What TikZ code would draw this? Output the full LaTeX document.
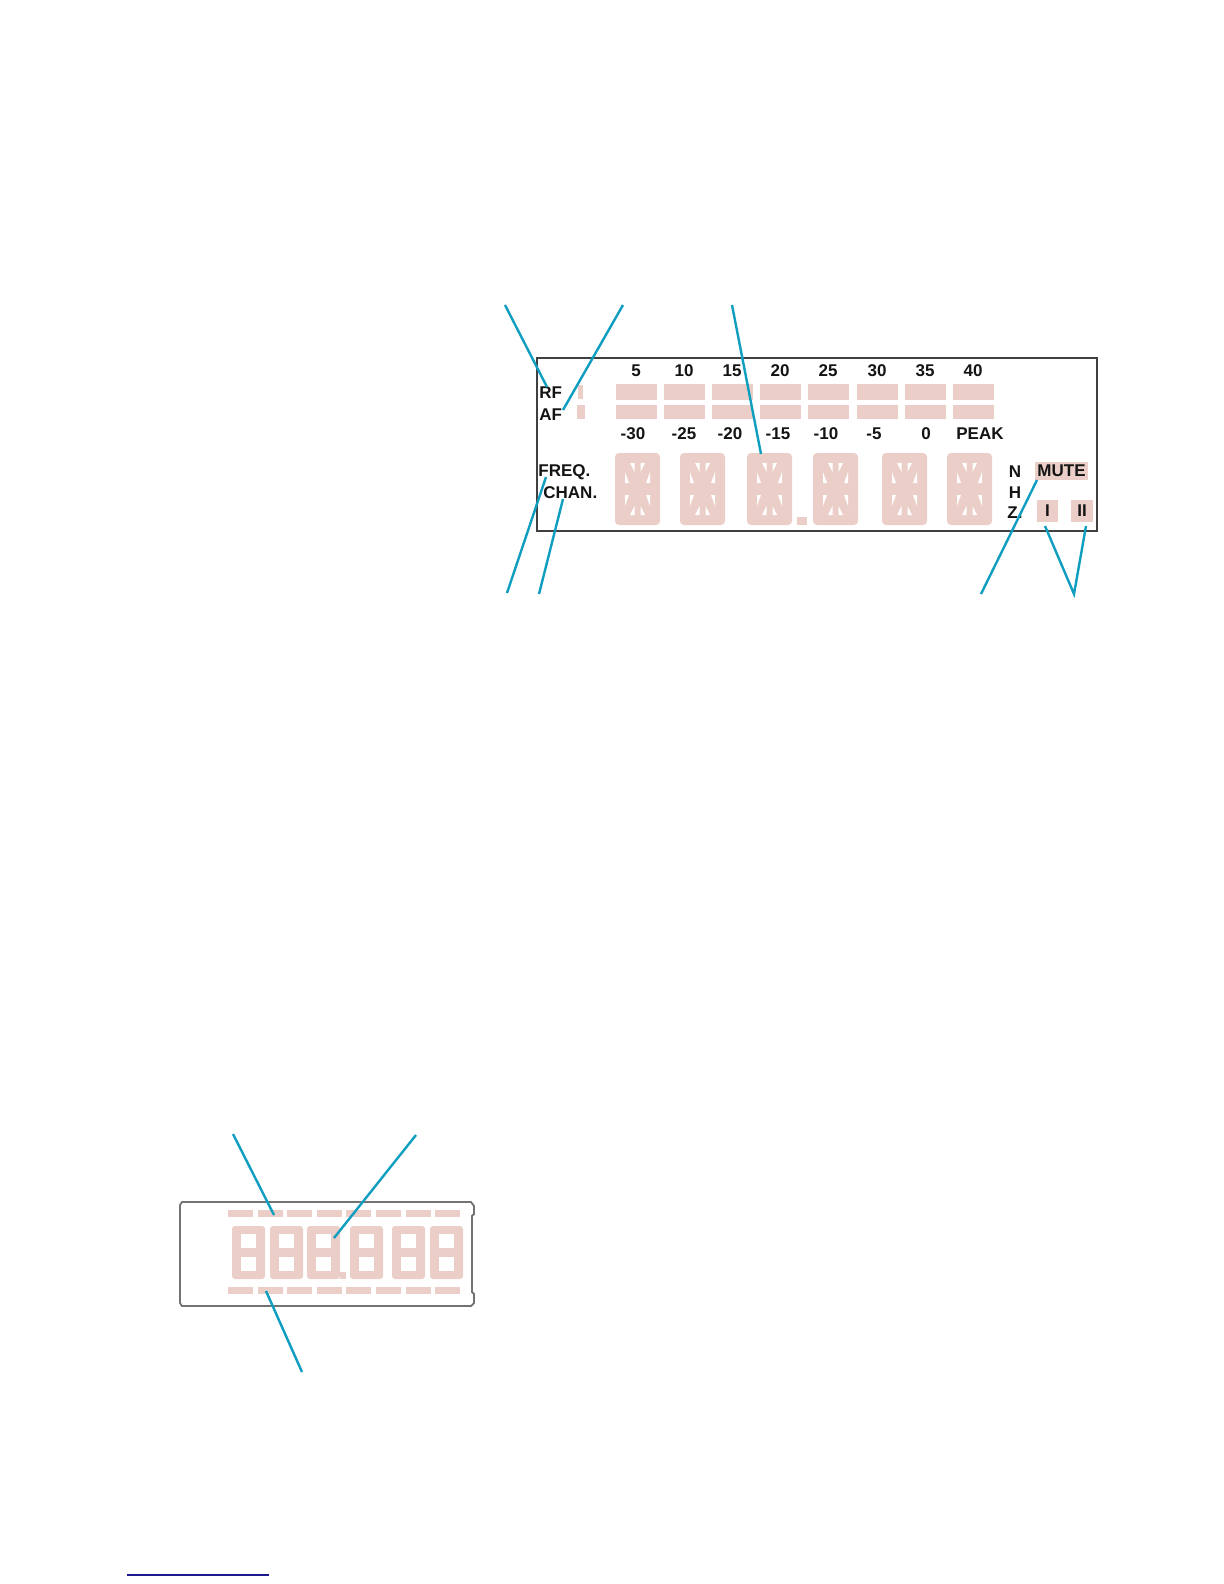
\documentclass[tikz,border=0pt]{standalone}
\usepackage{fontspec}
\setmainfont{Liberation Sans}
\begin{document}
\begin{tikzpicture}[x=0.5pt,y=-0.5pt]
\definecolor{lcdpink}{RGB}{234,206,199}
\definecolor{callc}{RGB}{16,158,192}
\definecolor{txt}{RGB}{20,20,20}
\definecolor{navyline}{RGB}{25,25,140}
\tikzset{
  callout/.style={draw=callc, line width=1.2pt},
  lbl/.style={font=\fontsize{8.5}{10}\selectfont\bfseries, text=txt, inner sep=0pt},
  lcdbox/.style={fill=lcdpink, inner sep=0pt},
  frame/.style={draw=black!75, line width=0.6pt},
}
\fill[white] (0,0) rectangle (1224,1584);
\useasboundingbox (0,0) rectangle (1224,1584);

% ---------- top display ----------
\draw[frame] (537,358) rectangle (1097,531);

% bar graph
\foreach \i in {0,...,7} {
  \fill[lcdpink] ({616+48.1*\i},384) rectangle ++(41,16);
  \fill[lcdpink] ({616+48.1*\i},405) rectangle ++(41,14);
}
\fill[lcdpink] (578,385) rectangle (583,399);
\fill[lcdpink] (577,405) rectangle (585,419);

% scale labels
\foreach \t/\x in {5/636,10/684,15/732,20/780,25/828,30/877,35/925,40/973}
  \node[lbl] (top\t) at (\x,371) {\t};
\node[lbl] (m30) at (633,434) {-30};
\node[lbl] (m25) at (684,434) {-25};
\node[lbl] (m20) at (730,434) {-20};
\node[lbl] (m15) at (778,434) {-15};
\node[lbl] (m10) at (826,434) {-10};
\node[lbl] (m5) at (874,434) {-5};
\node[lbl] (z0) at (926,434) {0};
\node[lbl] (peak) at (980,434) {PEAK};

\node[lbl, anchor=west] (rf) at (539,393) {RF};
\node[lbl, anchor=west] (af) at (539,415) {AF};
\node[lbl, anchor=west] (freq) at (538,472) {FREQ.};
\node[lbl, anchor=west] (chan) at (543,493) {CHAN.};

% 14-segment digits
\foreach \dx in {615,680,747,813,882,947} {
  \begin{scope}[shift={(\dx,453)}]
    \fill[lcdpink, rounded corners=2pt] (0,0) rectangle (45,72);
    % upper half gaps
    \fill[white] (10,19) -- (10,30) -- (14,30) -- cycle;
    \fill[white] (15,10) -- (19.5,10) -- (19.5,19) -- cycle;
    \fill[white] (30,10) -- (25.5,10) -- (25.5,19) -- cycle;
    \fill[white] (35,19) -- (35,30) -- (31,30) -- cycle;
    % lower half gaps
    \fill[white] (10,53) -- (10,42) -- (14,42) -- cycle;
    \fill[white] (15,62) -- (19.5,62) -- (19.5,53) -- cycle;
    \fill[white] (30,62) -- (25.5,62) -- (25.5,53) -- cycle;
    \fill[white] (35,53) -- (35,42) -- (31,42) -- cycle;
  \end{scope}
}
\fill[lcdpink] (797,517) rectangle (807,525);

% right indicators
\node[lbl] (n) at (1015,472) {N};
\node[lbl] (h) at (1015,493) {H};
\node[lbl] (z) at (1015,513) {Z.};
\node[lbl, lcdbox, minimum width=26.5pt, minimum height=9pt] (mute) at (1061.5,471) {MUTE};
\node[lbl, lcdbox, minimum width=10.5pt, minimum height=11pt] (one) at (1047.5,511) {I};
\node[lbl, lcdbox, minimum width=11pt, minimum height=11pt] (two) at (1082,511) {II};

% top callouts
\coordinate (c1a) at (505,305); \coordinate (c1b) at (547,387);
\coordinate (c2a) at (623,305); \coordinate (c2b) at (563,410);
\coordinate (c3a) at (732,305); \coordinate (c3b) at (761,454);
\coordinate (c4a) at (507,593); \coordinate (c4b) at (546,477);
\coordinate (c5a) at (539,594); \coordinate (c5b) at (563,499);
\coordinate (c6a) at (981,594); \coordinate (c6b) at (1037,480);
\coordinate (c7a) at (1074,594); \coordinate (c7b) at (1045,526);
\coordinate (c8b) at (1086,526);
\draw[callout] (c1a) -- (c1b);
\draw[callout] (c2a) -- (c2b);
\draw[callout] (c3a) -- (c3b);
\draw[callout] (c4a) -- (c4b);
\draw[callout] (c5a) -- (c5b);
\draw[callout] (c6a) -- (c6b);
\draw[callout] (c7b) -- (c7a) -- (c8b);

% ---------- bottom display ----------
\draw[draw=black!55, line width=0.9pt] (182,1202) -- (471,1202) -- (474,1206) -- (474,1214) -- (472,1216)
  -- (472,1292) -- (474,1294) -- (474,1303) -- (471,1306) -- (182,1306) -- (180,1303) -- (180,1205) -- cycle;
\foreach \i in {0,...,7} {
  \fill[lcdpink] ({228+29.6*\i},1210) rectangle ++(25,7);
  \fill[lcdpink] ({228+29.6*\i},1287) rectangle ++(25,7);
}
\foreach \dx in {232,270,307,350,392,430} {
  \begin{scope}[shift={(\dx,1226)}]
    \fill[lcdpink, rounded corners=1.5pt] (0,0) rectangle (33,53);
    \fill[white] (9,8) rectangle (24,22);
    \fill[white] (9,31) rectangle (24,45);
  \end{scope}
}
\fill[lcdpink] (340,1272) rectangle (346,1279);

\coordinate (d1a) at (233,1134); \coordinate (d1b) at (274,1215);
\coordinate (d2a) at (416,1135); \coordinate (d2b) at (334,1238);
\coordinate (d3a) at (302,1372); \coordinate (d3b) at (266,1291);
\draw[callout] (d1a) -- (d1b);
\draw[callout] (d2a) -- (d2b);
\draw[callout] (d3a) -- (d3b);

% footer line
\coordinate (f1) at (127,1575); \coordinate (f2) at (269,1575);
\draw[navyline, line width=0.7pt] (f1) -- (f2);
\end{tikzpicture}
\end{document}
